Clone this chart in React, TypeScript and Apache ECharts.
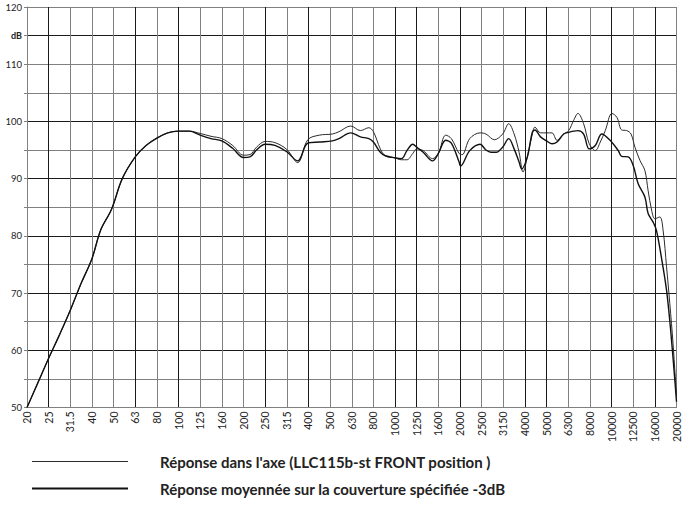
import React, { useEffect, useRef } from "react";
import * as echarts from "echarts";

const bandLabels = ["20","25","31.5","40","50","63","80","100","125","160","200","250","315","400","500","630","800","1000","1250","1600","2000","2500","3150","4000","5000","6300","8000","10000","12500","16000","20000"];

const yTickValues = [50, 60, 70, 80, 90, 100, 110, 120];

// Réponse dans l'axe (thin)
const axisPos = [0,0.5,1,1.5,2,2.5,3,3.4,3.9,4.4,5,5.5,6,6.5,7,7.5,8,8.5,9,9.5,10,10.3,10.6,11,11.45,12,12.5,12.97,13.5,14.1,14.41,14.95,15.4,15.79,16,16.32,16.55,16.98,17.3,17.55,17.82,18,18.3,18.73,19,19.34,19.6,19.96,20.1,20.45,20.93,21.2,21.59,21.97,22.25,22.5,22.73,22.91,23.11,23.34,23.46,23.72,24,24.25,24.48,24.79,25.02,25.25,25.45,25.71,25.97,26.25,26.48,26.71,27.02,27.25,27.47,27.7,27.9,28.08,28.31,28.54,28.69,28.85,29,29.23,29.38,29.54,29.69,29.84,30];
const axisDb = [50,54.3,58.6,62.7,67,71.7,76,81,84.6,90,93.8,95.8,97.1,98,98.3,98.3,97.9,97.4,97,95.8,94.1,94.2,95.5,96.5,96.3,95.1,92.8,96.8,97.6,97.8,98.2,99.2,98.4,98.9,98.2,95.2,94,93.65,93.3,93.3,94.4,95.2,94.9,93.5,94.4,97.6,97,94.4,94.2,97,98,97.8,96.8,97.8,99.6,97.8,94.6,91.15,93.8,97.8,99,98,98,98,96.7,97.8,98.4,100.2,101.4,99.6,96.1,94.9,96.4,98.4,101.4,100.7,98.5,98.4,97.8,95.5,93.2,91.4,87.9,84.5,83,83.3,81,74.6,68.2,61.2,52];

// Réponse moyennée (thick)
const avgPos = [0,0.5,1,1.5,2,2.5,3,3.4,3.9,4.4,5,5.5,6,6.5,7,7.5,8,8.5,9,9.5,10,10.3,10.6,11,11.45,12,12.5,12.97,13.5,14.1,14.41,14.95,15.4,15.79,16,16.32,16.55,16.98,17.3,17.55,17.82,18,18.3,18.73,19,19.34,19.6,19.96,20.02,20.45,20.93,21.2,21.43,21.67,21.97,22.25,22.5,22.73,22.85,23.11,23.34,23.46,23.72,24,24.25,24.48,24.79,25.02,25.25,25.45,25.71,25.97,26.25,26.55,26.93,27.31,27.47,27.77,28,28.23,28.54,28.69,28.92,29.07,29.3,29.54,29.73,29.91,30];
const avgDb = [50,54.3,58.6,62.7,67,71.7,76,81,84.6,90,93.8,95.8,97.1,98,98.3,98.3,97.6,97,96.6,95.3,93.7,93.8,95,96,95.8,94.7,93.1,96.2,96.4,96.6,97,98,97.3,97,96.4,94.6,94,93.65,93.5,94.9,96,95.5,94.6,93.1,94.4,96.7,96.2,92.9,92.2,94.9,96,95,94.6,94.6,95.5,97,95.2,92.9,91.7,93.8,98.1,98.5,97.3,96.6,96.1,96.4,97.8,98.1,98.3,98.4,97.8,95.2,95.8,97.8,96.7,94.9,93.9,93.8,92.3,89.1,86.8,83.9,82.4,81,76.3,70.5,63.5,55.4,51];

const seriesNames = [
  "Réponse dans l'axe (LLC115b-st FRONT position )",
  "Réponse moyennée sur la couverture spécifiée -3dB",
];

const B = "#1a1a1a";
const G = "#808080";
const xGridColors = [G,B,G,G,G,B,G,B,G,G,G,B,G,B,G,G,G,B,B,G,B,G,G,B,B,G,G,B,G,B,G];
const yGridColors = [G,G,B,G,B,G,B,G,B,G,B,G,G,B,G];

const FONT = "Lato, 'DejaVu Sans', sans-serif";

export default function App() {
  const ref = useRef<HTMLDivElement>(null);
  useEffect(() => {
    document.body.style.margin = "0";
    const chart = echarts.init(ref.current!, undefined, { renderer: "svg" });
    const zip = (xs: number[], ys: number[]) => xs.map((x, i) => [x, ys[i]]);
    const legendText = { fontSize: 15, fontWeight: "bold", fontFamily: FONT, color: "#222", padding: [0, 0, 0, 27] };
    chart.setOption({
      animation: false,
      backgroundColor: "#fff",
      grid: { left: 27, right: 1, top: 7, bottom: 100.5, containLabel: false },
      xAxis: {
        type: "value",
        min: 0,
        max: 30,
        interval: 1,
        axisLine: { show: true, lineStyle: { color: G, width: 1 } },
        axisTick: { show: false },
        axisLabel: {
          rotate: 90,
          margin: 4,
          fontSize: 10.5,
          fontFamily: FONT,
          color: "#222",
          showMaxLabel: true,
          showMinLabel: true,
          formatter: (v: number) => bandLabels[Math.round(v)] ?? "",
        },
        splitLine: { show: true, lineStyle: { color: xGridColors, width: 1 } },
      },
      yAxis: {
        type: "value",
        min: 50,
        max: 120,
        interval: 5,
        axisLine: { show: true, lineStyle: { color: G, width: 1 } },
        axisTick: { show: true, length: 3, lineStyle: { color: G } },
        axisLabel: {
          margin: 5,
          fontSize: 9.5,
          fontFamily: FONT,
          color: "#222",
          formatter: (v: number) =>
            yTickValues.includes(v) ? String(v) : v === 115 ? "{b|dB}" : "",
          rich: { b: { fontWeight: "bold", fontSize: 9, fontFamily: FONT, color: "#222" } },
        },
        splitLine: { show: true, lineStyle: { color: yGridColors, width: 1 } },
      },
      legend: [
        {
          data: [seriesNames[0]],
          left: 32,
          top: 454,
          padding: 0,
          icon: "rect",
          itemWidth: 96,
          itemHeight: 1,
          itemStyle: { color: "#2b2b2b" },
          textStyle: legendText,
        },
        {
          data: [seriesNames[1]],
          left: 32,
          top: 481,
          padding: 0,
          icon: "rect",
          itemWidth: 96,
          itemHeight: 2,
          itemStyle: { color: "#111" },
          textStyle: legendText,
        },
      ],
      series: [
        {
          name: seriesNames[0],
          type: "line",
          data: zip(axisPos, axisDb),
          showSymbol: false,
          symbol: "none",
          smooth: 0.35,
          lineStyle: { color: "#2b2b2b", width: 1 },
          itemStyle: { color: "#2b2b2b" },
        },
        {
          name: seriesNames[1],
          type: "line",
          data: zip(avgPos, avgDb),
          showSymbol: false,
          symbol: "none",
          smooth: 0.35,
          lineStyle: { color: "#111", width: 1.4 },
          itemStyle: { color: "#111" },
        },
      ],
    });
    return () => chart.dispose();
  }, []);
  return <div ref={ref} style={{ position: "fixed", left: 0, top: 0, width: 682, height: 508 }} />;
}
